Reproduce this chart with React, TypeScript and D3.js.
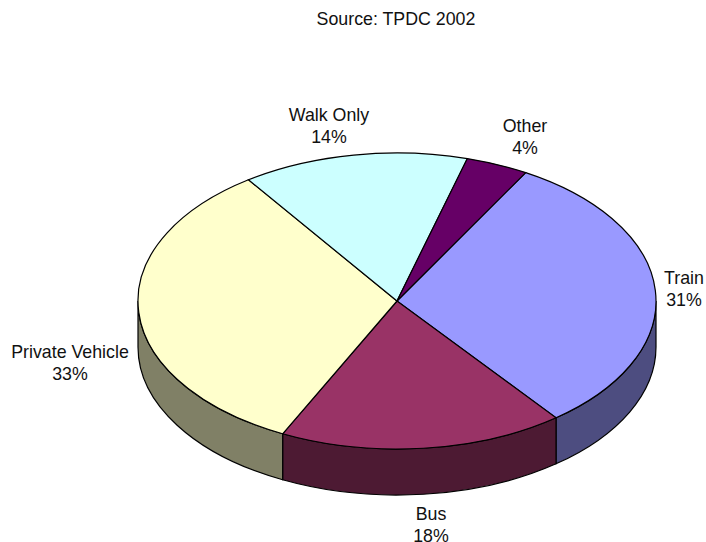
import * as d3 from "d3";

const WIDTH = 706;
const HEIGHT = 542;

const TITLE = "Source: TPDC 2002";

// slice order runs clockwise from the Train/Other border
const categories = ["Train", "Bus", "Private Vehicle", "Walk Only", "Other"];
const shares = [31.2, 17.8, 33, 14.1, 3.9];
const topColors = ["#9999FF", "#993366", "#FFFFCC", "#CCFFFF", "#660066"];
const sideColors = ["#4D4D80", "#4D1A33", "#808066", "", ""];

// layout of the tilted pie
const CX = 397;
const CY = 301;
const RX = 259;
const RY = 148;
const DEPTH = 46;
const START = (29.8 * Math.PI) / 180;

// x centre and first baseline of each two line label
const labelAnchors: Record<string, [number, number]> = {
  Train: [684, 284],
  Bus: [431, 520],
  "Private Vehicle": [70, 358],
  "Walk Only": [329, 121],
  Other: [525, 132],
};

const px = (a: number) => CX + RX * Math.sin(a);
const py = (a: number) => CY - RY * Math.cos(a);

// wall of a slice: only the part of the rim on the front half (90deg..270deg) shows
const sidePath = (a0: number, a1: number) => {
  const from = Math.max(a0, Math.PI / 2);
  const to = Math.min(a1, (3 * Math.PI) / 2);
  if (to <= from) return null;
  return [
    `M${px(from)},${py(from)}`,
    `A${RX},${RY} 0 0 1 ${px(to)},${py(to)}`,
    `L${px(to)},${py(to) + DEPTH}`,
    `A${RX},${RY} 0 0 0 ${px(from)},${py(from) + DEPTH}`,
    "Z",
  ].join(" ");
};

export default function App() {
  const pieGen = d3
    .pie<number>()
    .sort(null)
    .startAngle(START)
    .endAngle(START + 2 * Math.PI);
  const slices = pieGen(shares);

  // d3.arc draws a circle, the group transform squashes it into the ellipse
  const arcGen = d3
    .arc<d3.PieArcDatum<number>>()
    .innerRadius(0)
    .outerRadius(RX);

  return (
    <svg
      width={WIDTH}
      height={HEIGHT}
      style={{ position: "absolute", left: 0, top: 0 }}
      fontFamily="'Liberation Sans', Arial, sans-serif"
      fontSize={17.8}
      fill="#111"
    >
      <text x={396} y={25} textAnchor="middle">
        {TITLE}
      </text>

      {/* walls first, the top face goes over them */}
      {slices.map((s, i) => {
        const d = sidePath(s.startAngle, s.endAngle);
        return d ? (
          <path
            key={categories[i]}
            d={d}
            fill={sideColors[i]}
            stroke="#000"
            strokeWidth={1.2}
          />
        ) : null;
      })}

      <g transform={`translate(${CX},${CY}) scale(1,${RY / RX})`}>
        {slices.map((s, i) => (
          <path
            key={categories[i]}
            d={arcGen(s) ?? ""}
            fill={topColors[i]}
            stroke="#000"
            strokeWidth={1.2}
            vectorEffect="non-scaling-stroke"
          />
        ))}
      </g>

      {categories.map((c, i) => {
        const [x, y] = labelAnchors[c];
        return (
          <text key={c} textAnchor="middle">
            <tspan x={x} y={y}>
              {c}
            </tspan>
            <tspan x={x} y={y + 22}>
              {Math.round(shares[i])}%
            </tspan>
          </text>
        );
      })}
    </svg>
  );
}
